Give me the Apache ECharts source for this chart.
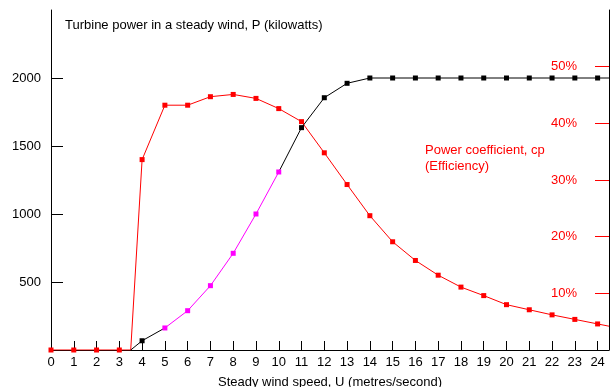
<!DOCTYPE html>
<html>
<head>
<meta charset="utf-8">
<script src="https://cdn.jsdelivr.net/npm/echarts@6/dist/echarts.min.js"></script>
<style>
  html, body { margin: 0; padding: 0; background: #fff; }
  #chart { width: 610px; height: 387px; }
</style>
</head>
<body>
<div id="chart"></div>
<script>
// wind speed (m/s) and readings
const powerStartSpeeds = [3.5, 4, 5];
const powerStartValues = [0, 68, 162];
const powerRiseSpeeds = [5, 6, 7, 8, 9, 10];
const powerRiseValues = [162, 289, 473, 711, 1000, 1309];
const powerTopSpeeds = [10, 11, 12, 13, 14, 15, 16, 17, 18, 19, 20, 21, 22, 23, 24, 24.5];
const powerTopValues = [1309, 1635, 1855, 1961, 2000, 2000, 2000, 2000, 2000, 2000, 2000, 2000, 2000, 2000, 2000, 2000];
const cpSpeeds = [0, 1, 2, 3, 3.5, 4, 5, 6, 7, 8, 9, 10, 11, 12, 13, 14, 15, 16, 17, 18, 19, 20, 21, 22, 23, 24, 24.5];
const cpValues = [0, 0, 0, 0, 0, 33.6, 43.2, 43.2, 44.7, 45.1, 44.4, 42.6, 40.3, 34.8, 29.2, 23.7, 19.1, 15.8, 13.2, 11.1, 9.6, 8.0, 7.1, 6.2, 5.4, 4.6, 4.2];
const powerTicks = [500, 1000, 1500, 2000];
const cpTicks = [10, 20, 30, 40, 50];

const font = 'Liberation Sans, Arial, sans-serif';

// only integer speeds get a marker
function pairs(xs, ys) {
  return xs.map((x, i) => ({
    value: [x, ys[i]],
    symbol: Number.isInteger(x) ? 'rect' : 'none',
  }));
}

const chart = echarts.init(document.getElementById('chart'), null, { renderer: 'canvas' });
chart.setOption({
  animation: false,
  backgroundColor: '#fff',
  grid: { left: 51, right: 1, top: 10, bottom: 37, outerBoundsMode: 'none' },
  graphic: [
    { type: 'text', left: 65, top: 19, style: { text: 'Turbine power in a steady wind, P (kilowatts)', font: '13px ' + font, fill: '#000' } },
    { type: 'text', left: 425, top: 142, style: { text: 'Power coefficient, cp\n(Efficiency)', font: '13px ' + font, fill: '#ff0000', lineHeight: 16 } },
  ],
  xAxis: {
    type: 'value',
    min: 0,
    max: 24.5,
    interval: 1,
    name: 'Steady wind speed, U (metres/second)',
    nameLocation: 'middle',
    nameGap: 26,
    nameTextStyle: { color: '#000', fontSize: 13, fontFamily: font },
    splitLine: { show: false },
    axisLine: { lineStyle: { color: '#000', width: 1 } },
    axisTick: { inside: true, length: 9, lineStyle: { color: '#000' } },
    axisLabel: {
      color: '#000', fontSize: 13, fontFamily: font, margin: 6,
      formatter: v => Number.isInteger(v) ? String(v) : '',
    },
  },
  yAxis: [
    {
      type: 'value',
      min: 0,
      max: 2500,
      interval: 500,
      splitLine: { show: false },
      axisLine: { show: true, lineStyle: { color: '#000' } },
      axisTick: { inside: true, length: 12, customValues: powerTicks, lineStyle: { color: '#000' } },
      axisLabel: {
        color: '#000', fontSize: 13, fontFamily: font, margin: 10,
        customValues: powerTicks, formatter: v => String(v),
      },
    },
    {
      type: 'value',
      position: 'right',
      min: 0,
      max: 60,
      interval: 10,
      splitLine: { show: false },
      axisLine: { show: true, lineStyle: { color: '#000' } },
      axisTick: { inside: true, length: 14, customValues: cpTicks, lineStyle: { color: '#ff0000' } },
      axisLabel: {
        inside: true, color: '#ff0000', fontSize: 13, fontFamily: font, margin: 32,
        customValues: cpTicks, formatter: v => v + '%',
      },
    },
  ],
  series: [
    {
      type: 'line', yAxisIndex: 1, data: pairs(cpSpeeds, cpValues),
      symbolSize: 5, lineStyle: { color: '#ff0000', width: 1 }, itemStyle: { color: '#ff0000' },
    },
    {
      type: 'line', data: pairs(powerStartSpeeds, powerStartValues).map((d, i) => i === 2 ? { ...d, symbol: 'none' } : d),
      symbolSize: 5, lineStyle: { color: '#000', width: 1 }, itemStyle: { color: '#000' },
    },
    {
      type: 'line', data: pairs(powerTopSpeeds, powerTopValues).map((d, i) => i === 0 ? { ...d, symbol: 'none' } : d),
      symbolSize: 5, lineStyle: { color: '#000', width: 1 }, itemStyle: { color: '#000' },
    },
    {
      type: 'line', data: pairs(powerRiseSpeeds, powerRiseValues),
      symbolSize: 5, lineStyle: { color: '#ff00ff', width: 1 }, itemStyle: { color: '#ff00ff' },
    },
  ],
});
</script>
</body>
</html>
